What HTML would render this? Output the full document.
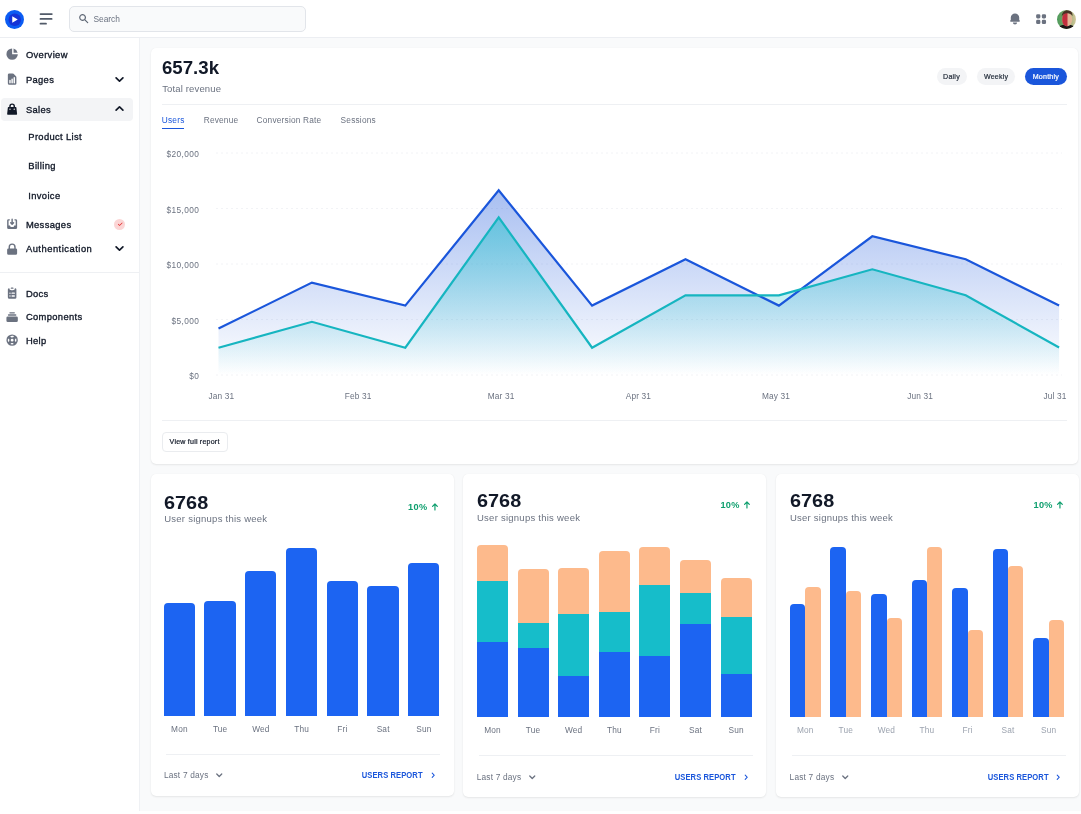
<!DOCTYPE html>
<html lang="en">
<head>
<meta charset="utf-8">
<title>Dashboard</title>
<style>
html,body{margin:0;padding:0}
body{width:1081px;height:814px;position:relative;overflow:hidden;background:#f9fafb;font-family:"Liberation Sans",sans-serif;color:#111827}
.t{position:absolute;white-space:nowrap}
.ic{position:absolute;display:block}
.abs{position:absolute}
.card{position:absolute;background:#fff;border-radius:5px;box-shadow:0 1px 2px rgba(0,0,0,.08),0 0 1px rgba(0,0,0,.06)}
.hr{position:absolute;height:1px;background:#eef0f3}
.pill{position:absolute;border-radius:9px;height:17.4px;top:68.1px;background:#f3f4f6}
</style>
</head>
<body>

<div class="abs" style="left:0;top:0;width:1081px;height:37px;background:#fff;border-bottom:1px solid #eceef2"></div>
<div class="abs" style="left:0;top:38px;width:139px;height:776px;background:#fff;border-right:1px solid #eff1f4"></div>
<div class="abs" style="left:0;top:810.6px;width:1081px;height:4px;background:#fff"></div>
<svg class="ic" style="left:4.75px;top:9.8px;width:19px;height:19px" viewBox="0 0 38 38"><circle cx="19" cy="19" r="19" fill="#0b5cf3"/><circle cx="19.5" cy="19.5" r="12.5" fill="#1533d6"/><path d="M14.5 12.5 L25.5 19 L14.5 25.5 Z" fill="#fff"/></svg>
<svg class="ic" style="left:38px;top:11px;width:16px;height:16px" viewBox="0 0 16 16" fill="none" stroke="#525b69" stroke-width="1.8" stroke-linecap="round"><path d="M2.5 3.1H13.8M2.5 7.9H13.6M2.5 12.7H8"/></svg>
<div class="abs" style="left:68.5px;top:6.3px;width:235.5px;height:24px;border:1px solid #e2e5ea;border-radius:5px;background:#f9fafb"></div>
<svg class="ic" style="left:77.50px;top:13.40px;width:11.4px;height:11.4px" viewBox="0 0 20 20" fill="#5b6472"><path fill-rule="evenodd" d="M8 4a4 4 0 100 8 4 4 0 000-8zM2 8a6 6 0 1110.89 3.476l4.817 4.817a1 1 0 01-1.414 1.414l-4.816-4.816A6 6 0 012 8z" clip-rule="evenodd"/></svg>
<div class="t" style="top:14.02px;font-size:8.4px;line-height:11.76px;color:#6b7280;font-weight:400;left:93.40px;">Search</div>
<svg class="ic" style="left:1007.70px;top:12.00px;width:14px;height:14px" viewBox="0 0 20 20" fill="#6b7280"><path d="M10 2a6 6 0 00-6 6v3.586l-.707.707A1 1 0 004 14h12a1 1 0 00.707-1.707L16 11.586V8a6 6 0 00-6-6zM10 18a3 3 0 01-3-3h6a3 3 0 01-3 3z"/></svg>
<svg class="ic" style="left:1033.70px;top:12.00px;width:14.2px;height:14.2px" viewBox="0 0 20 20" fill="#6b7280"><path d="M5 3a2 2 0 00-2 2v2a2 2 0 002 2h2a2 2 0 002-2V5a2 2 0 00-2-2H5zM5 11a2 2 0 00-2 2v2a2 2 0 002 2h2a2 2 0 002-2v-2a2 2 0 00-2-2H5zM11 5a2 2 0 012-2h2a2 2 0 012 2v2a2 2 0 01-2 2h-2a2 2 0 01-2-2V5zM11 13a2 2 0 012-2h2a2 2 0 012 2v2a2 2 0 01-2 2h-2a2 2 0 01-2-2v-2z"/></svg>
<svg class="ic" style="left:1057.1px;top:9.5px;width:19px;height:19px" viewBox="0 0 38 38"><defs><clipPath id="av"><circle cx="19" cy="19" r="19"/></clipPath><filter id="avb" x="-20%" y="-20%" width="140%" height="140%"><feGaussianBlur stdDeviation="1.3"/></filter><linearGradient id="avbg" x1="0" x2="1" y1="0" y2="0"><stop offset="0" stop-color="#4a9a5a"/><stop offset=".4" stop-color="#7aa468"/><stop offset="1" stop-color="#d2c79a"/></linearGradient></defs><g clip-path="url(#av)"><rect width="38" height="38" fill="url(#avbg)"/><g filter="url(#avb)"><path d="M0 40 C3 30 12 29 19 29 C27 29 35 30 38 40 Z" fill="#1a1719"/><ellipse cx="20.5" cy="19" rx="10" ry="13.5" fill="#e2b596"/><path d="M10.5 19 C10.5 9 14 5.5 21 5.5 L21 32.5 C14 32.5 10.5 28 10.5 19 Z" fill="#c22f3c"/><path d="M9.5 13 C9.5 4 16 0.5 21 0.5 C28 0.5 31.5 5 31 12 C28 7.5 24 6 20 6.5 C15 7 11 9 9.5 13 Z" fill="#4a3325"/></g></g></svg>
<div class="abs" style="left:1px;top:97.5px;width:131.5px;height:23.2px;border-radius:4px;background:#f3f4f6"></div>
<svg class="ic" style="left:4.78px;top:47.07px;width:14.25px;height:14.25px" viewBox="0 0 20 20" fill="#6b7280"><path d="M2 10a8 8 0 018-8v8h8a8 8 0 11-16 0z"/><path d="M12 2.252A8.014 8.014 0 0117.748 8H12V2.252z"/></svg>
<div class="t" style="top:48.32px;font-size:9.4px;line-height:13.16px;color:#111827;font-weight:400;letter-spacing:0.35px;-webkit-text-stroke:0.32px #111827;left:25.90px;">Overview</div>
<svg class="ic" style="left:4.78px;top:72.27px;width:14.25px;height:14.25px" viewBox="0 0 20 20" fill="#6b7280"><path fill-rule="evenodd" d="M6 2a2 2 0 00-2 2v12a2 2 0 002 2h8a2 2 0 002-2V7.414A2 2 0 0015.414 6L12 2.586A2 2 0 0010.586 2H6zm2 10a1 1 0 10-2 0v3a1 1 0 102 0v-3zm2-3a1 1 0 011 1v5a1 1 0 11-2 0v-5a1 1 0 011-1zm4-1a1 1 0 10-2 0v7a1 1 0 102 0V8z" clip-rule="evenodd"/></svg>
<div class="t" style="top:73.02px;font-size:9.4px;line-height:13.16px;color:#111827;font-weight:400;letter-spacing:0.35px;-webkit-text-stroke:0.32px #111827;left:25.90px;">Pages</div>
<svg class="ic" style="left:4.78px;top:102.17px;width:14.25px;height:14.25px" viewBox="0 0 20 20" fill="#111827"><path fill-rule="evenodd" d="M10 2a4 4 0 00-4 4v1H5a1 1 0 00-.994.89l-1 9A1 1 0 004 18h12a1 1 0 00.994-1.11l-1-9A1 1 0 0015 7h-1V6a4 4 0 00-4-4zm2 5V6a2 2 0 10-4 0v1h4zm-6 3a1 1 0 112 0 1 1 0 01-2 0zm7-1a1 1 0 100 2 1 1 0 000-2z" clip-rule="evenodd"/></svg>
<div class="t" style="top:102.72px;font-size:9.4px;line-height:13.16px;color:#111827;font-weight:400;letter-spacing:0.35px;-webkit-text-stroke:0.32px #111827;left:25.90px;">Sales</div>
<div class="t" style="top:130.42px;font-size:9.4px;line-height:13.16px;color:#111827;font-weight:400;letter-spacing:0.35px;-webkit-text-stroke:0.32px #111827;left:28.30px;">Product List</div>
<div class="t" style="top:159.02px;font-size:9.4px;line-height:13.16px;color:#111827;font-weight:400;letter-spacing:0.35px;-webkit-text-stroke:0.32px #111827;left:28.30px;">Billing</div>
<div class="t" style="top:188.82px;font-size:9.4px;line-height:13.16px;color:#111827;font-weight:400;letter-spacing:0.35px;-webkit-text-stroke:0.32px #111827;left:28.30px;">Invoice</div>
<svg class="ic" style="left:4.78px;top:217.18px;width:14.25px;height:14.25px" viewBox="0 0 20 20" fill="#6b7280"><path d="M8.707 7.293a1 1 0 00-1.414 1.414l2 2a1 1 0 001.414 0l2-2a1 1 0 00-1.414-1.414L11 7.586V3a1 1 0 10-2 0v4.586l-.293-.293z"/><path d="M3 5a2 2 0 012-2h1a1 1 0 010 2H5v7h2l1 2h4l1-2h2V5h-1a1 1 0 110-2h1a2 2 0 012 2v10a2 2 0 01-2 2H5a2 2 0 01-2-2V5z"/></svg>
<div class="t" style="top:217.92px;font-size:9.4px;line-height:13.16px;color:#111827;font-weight:400;letter-spacing:0.35px;-webkit-text-stroke:0.32px #111827;left:25.90px;">Messages</div>
<svg class="ic" style="left:4.78px;top:241.78px;width:14.25px;height:14.25px" viewBox="0 0 20 20" fill="#6b7280"><path fill-rule="evenodd" d="M5 9V7a5 5 0 0110 0v2a2 2 0 012 2v5a2 2 0 01-2 2H5a2 2 0 01-2-2v-5a2 2 0 012-2zm8-2v2H7V7a3 3 0 016 0z" clip-rule="evenodd"/></svg>
<div class="t" style="top:242.22px;font-size:9.4px;line-height:13.16px;color:#111827;font-weight:400;letter-spacing:0.5px;-webkit-text-stroke:0.32px #111827;left:25.90px;">Authentication</div>
<svg class="ic" style="left:4.78px;top:286.48px;width:14.25px;height:14.25px" viewBox="0 0 20 20" fill="#6b7280"><path d="M9 2a1 1 0 000 2h2a1 1 0 100-2H9z"/><path fill-rule="evenodd" d="M4 5a2 2 0 012-2 3 3 0 003 3h2a3 3 0 003-3 2 2 0 012 2v11a2 2 0 01-2 2H6a2 2 0 01-2-2V5zm3 4a1 1 0 000 2h.01a1 1 0 100-2H7zm3 0a1 1 0 000 2h3a1 1 0 100-2h-3zm-3 4a1 1 0 100 2h.01a1 1 0 100-2H7zm3 0a1 1 0 100 2h3a1 1 0 100-2h-3z" clip-rule="evenodd"/></svg>
<div class="t" style="top:287.22px;font-size:9.4px;line-height:13.16px;color:#111827;font-weight:400;letter-spacing:0.35px;-webkit-text-stroke:0.32px #111827;left:25.90px;">Docs</div>
<svg class="ic" style="left:4.78px;top:309.97px;width:14.25px;height:14.25px" viewBox="0 0 20 20" fill="#6b7280"><path d="M7 3a1 1 0 000 2h6a1 1 0 100-2H7zM4 7a1 1 0 011-1h10a1 1 0 110 2H5a1 1 0 01-1-1zM2 11a2 2 0 012-2h12a2 2 0 012 2v4a2 2 0 01-2 2H4a2 2 0 01-2-2v-4z"/></svg>
<div class="t" style="top:310.32px;font-size:9.4px;line-height:13.16px;color:#111827;font-weight:400;letter-spacing:0.35px;-webkit-text-stroke:0.32px #111827;left:25.90px;">Components</div>
<svg class="ic" style="left:4.78px;top:333.28px;width:14.25px;height:14.25px" viewBox="0 0 20 20" fill="#6b7280"><path fill-rule="evenodd" d="M18 10a8 8 0 11-16 0 8 8 0 0116 0zm-2 0c0 .993-.241 1.929-.668 2.754l-1.524-1.525a3.997 3.997 0 00.078-2.183l1.562-1.562C15.802 8.249 16 9.1 16 10zm-5.165 3.913l1.58 1.58A5.98 5.98 0 0110 16a5.976 5.976 0 01-2.516-.552l1.562-1.562a4.006 4.006 0 001.789.027zm-4.677-2.796a4.002 4.002 0 01-.041-2.08l-.08.08-1.53-1.533A5.98 5.98 0 004 10c0 .954.223 1.856.619 2.657l1.54-1.54zm1.088-6.45A5.974 5.974 0 0110 4c.954 0 1.856.223 2.657.619l-1.54 1.54a4.002 4.002 0 00-2.346.033L7.246 4.668zM12 10a2 2 0 11-4 0 2 2 0 014 0z" clip-rule="evenodd"/></svg>
<div class="t" style="top:334.02px;font-size:9.4px;line-height:13.16px;color:#111827;font-weight:400;letter-spacing:0.35px;-webkit-text-stroke:0.32px #111827;left:25.90px;">Help</div>
<svg class="ic" style="left:111.10px;top:70.60px;width:17px;height:17px" viewBox="0 0 20 20" fill="#111827"><path fill-rule="evenodd" d="M5.293 7.293a1 1 0 011.414 0L10 10.586l3.293-3.293a1 1 0 111.414 1.414l-4 4a1 1 0 01-1.414 0l-4-4a1 1 0 010-1.414z" clip-rule="evenodd"/></svg>
<svg class="ic" style="left:111.10px;top:100.30px;width:17px;height:17px" viewBox="0 0 20 20" fill="#111827"><path fill-rule="evenodd" d="M14.707 12.707a1 1 0 01-1.414 0L10 9.414l-3.293 3.293a1 1 0 01-1.414-1.414l4-4a1 1 0 011.414 0l4 4a1 1 0 010 1.414z" clip-rule="evenodd"/></svg>
<svg class="ic" style="left:111.10px;top:240.30px;width:17px;height:17px" viewBox="0 0 20 20" fill="#111827"><path fill-rule="evenodd" d="M5.293 7.293a1 1 0 011.414 0L10 10.586l3.293-3.293a1 1 0 111.414 1.414l-4 4a1 1 0 01-1.414 0l-4-4a1 1 0 010-1.414z" clip-rule="evenodd"/></svg>
<div class="abs" style="left:114.2px;top:219px;width:11px;height:11px;border-radius:50%;background:#fbd5d5"></div>
<svg class="ic" style="left:116.50px;top:221.30px;width:6.4px;height:6.4px" viewBox="0 0 20 20" fill="#e02424"><path fill-rule="evenodd" d="M16.707 5.293a1 1 0 010 1.414l-8 8a1 1 0 01-1.414 0l-4-4a1 1 0 011.414-1.414L8 12.586l7.293-7.293a1 1 0 011.414 0z" clip-rule="evenodd"/></svg>
<div class="hr" style="left:0;top:272px;width:139px;background:#eef0f3"></div>
<div class="card" style="left:150.5px;top:47.5px;width:927.5px;height:416.6px"></div>
<div class="t" style="top:56.15px;font-size:17.5px;line-height:24.5px;color:#111827;font-weight:700;transform:scaleX(1.065);transform-origin:left center;left:161.90px;">657.3k</div>
<div class="t" style="top:81.55px;font-size:9.5px;line-height:13.3px;color:#6b7280;font-weight:400;letter-spacing:0.15px;left:162.20px;">Total revenue</div>
<div class="pill" style="left:936.5px;width:30px"></div>
<div class="pill" style="left:976.7px;width:38.8px"></div>
<div class="pill" style="left:1024.9px;width:42px;background:#1a56db"></div>
<div class="t" style="top:72.93px;font-size:7.1px;line-height:9.94px;color:#1f2937;font-weight:400;letter-spacing:0.2px;-webkit-text-stroke:0.2px #1f2937;left:851.50px;width:200px;text-align:center;">Daily</div>
<div class="t" style="top:72.93px;font-size:7.1px;line-height:9.94px;color:#1f2937;font-weight:400;letter-spacing:0.2px;-webkit-text-stroke:0.2px #1f2937;left:896.10px;width:200px;text-align:center;">Weekly</div>
<div class="t" style="top:72.93px;font-size:7.1px;line-height:9.94px;color:#ffffff;font-weight:400;letter-spacing:0.2px;-webkit-text-stroke:0.2px #ffffff;left:945.90px;width:200px;text-align:center;">Monthly</div>
<div class="hr" style="left:161.5px;top:104px;width:905.5px"></div>
<div class="t" style="top:114.99px;font-size:8.3px;line-height:11.62px;color:#1a56db;font-weight:400;letter-spacing:0.25px;left:161.70px;">Users</div>
<div class="abs" style="left:161.7px;top:127.9px;width:22.6px;height:1.2px;background:#1a56db"></div>
<div class="t" style="top:114.99px;font-size:8.3px;line-height:11.62px;color:#6b7280;font-weight:400;letter-spacing:0.2px;left:203.70px;">Revenue</div>
<div class="t" style="top:114.99px;font-size:8.3px;line-height:11.62px;color:#6b7280;font-weight:400;letter-spacing:0.2px;left:256.60px;">Conversion Rate</div>
<div class="t" style="top:114.99px;font-size:8.3px;line-height:11.62px;color:#6b7280;font-weight:400;letter-spacing:0.2px;left:340.60px;">Sessions</div>
<svg class="ic" style="left:0;top:0;width:1081px;height:470px" viewBox="0 0 1081 470"><defs><linearGradient id="gb" x1="0" y1="190" x2="0" y2="375" gradientUnits="userSpaceOnUse"><stop offset="0" stop-color="#1a56db" stop-opacity=".38"/><stop offset="1" stop-color="#1a56db" stop-opacity="0"/></linearGradient><linearGradient id="gt" x1="0" y1="217" x2="0" y2="375" gradientUnits="userSpaceOnUse"><stop offset="0" stop-color="#16bdca" stop-opacity=".5"/><stop offset="1" stop-color="#16bdca" stop-opacity="0"/></linearGradient></defs><line x1="216" x2="1062" y1="153.0" y2="153.0" stroke="#f2f3f6" stroke-width="1" stroke-dasharray="2 3"/><line x1="216" x2="1062" y1="208.5" y2="208.5" stroke="#f2f3f6" stroke-width="1" stroke-dasharray="2 3"/><line x1="216" x2="1062" y1="264.0" y2="264.0" stroke="#f2f3f6" stroke-width="1" stroke-dasharray="2 3"/><line x1="216" x2="1062" y1="319.5" y2="319.5" stroke="#f2f3f6" stroke-width="1" stroke-dasharray="2 3"/><line x1="216" x2="1062" y1="375.0" y2="375.0" stroke="#f2f3f6" stroke-width="1" stroke-dasharray="2 3"/><polygon points="218.5,328.6 311.9,282.6 405.3,305.6 498.7,190.3 592.1,305.6 685.5,259.3 778.9,305.6 872.3,236.3 965.7,259.3 1059.1,305.6 1059.1,375.0 218.5,375.0" fill="url(#gb)"/><polygon points="218.5,347.7 311.9,321.8 405.3,347.7 498.7,217.3 592.1,347.7 685.5,295.3 778.9,295.3 872.3,269.3 965.7,295.3 1059.1,347.5 1059.1,375.0 218.5,375.0" fill="url(#gt)"/><polyline points="218.5,328.6 311.9,282.6 405.3,305.6 498.7,190.3 592.1,305.6 685.5,259.3 778.9,305.6 872.3,236.3 965.7,259.3 1059.1,305.6" fill="none" stroke="#1a56db" stroke-width="2.2" stroke-linejoin="miter" stroke-linecap="butt"/><polyline points="218.5,347.7 311.9,321.8 405.3,347.7 498.7,217.3 592.1,347.7 685.5,295.3 778.9,295.3 872.3,269.3 965.7,295.3 1059.1,347.5" fill="none" stroke="#16b5c0" stroke-width="2.2" stroke-linejoin="miter" stroke-linecap="butt"/></svg>
<div class="t" style="top:148.69px;font-size:8.3px;line-height:11.62px;color:#6b7280;font-weight:400;letter-spacing:0.4px;right:881.80px;">$20,000</div>
<div class="t" style="top:204.89px;font-size:8.3px;line-height:11.62px;color:#6b7280;font-weight:400;letter-spacing:0.4px;right:881.80px;">$15,000</div>
<div class="t" style="top:259.89px;font-size:8.3px;line-height:11.62px;color:#6b7280;font-weight:400;letter-spacing:0.4px;right:881.80px;">$10,000</div>
<div class="t" style="top:315.99px;font-size:8.3px;line-height:11.62px;color:#6b7280;font-weight:400;letter-spacing:0.4px;right:881.80px;">$5,000</div>
<div class="t" style="top:371.09px;font-size:8.3px;line-height:11.62px;color:#6b7280;font-weight:400;letter-spacing:0.4px;right:881.80px;">$0</div>
<div class="t" style="top:391.09px;font-size:8.3px;line-height:11.62px;color:#6b7280;font-weight:400;letter-spacing:0.15px;left:121.40px;width:200px;text-align:center;">Jan 31</div>
<div class="t" style="top:391.09px;font-size:8.3px;line-height:11.62px;color:#6b7280;font-weight:400;letter-spacing:0.15px;left:258.10px;width:200px;text-align:center;">Feb 31</div>
<div class="t" style="top:391.09px;font-size:8.3px;line-height:11.62px;color:#6b7280;font-weight:400;letter-spacing:0.15px;left:401.10px;width:200px;text-align:center;">Mar 31</div>
<div class="t" style="top:391.09px;font-size:8.3px;line-height:11.62px;color:#6b7280;font-weight:400;letter-spacing:0.15px;left:538.40px;width:200px;text-align:center;">Apr 31</div>
<div class="t" style="top:391.09px;font-size:8.3px;line-height:11.62px;color:#6b7280;font-weight:400;letter-spacing:0.15px;left:676.10px;width:200px;text-align:center;">May 31</div>
<div class="t" style="top:391.09px;font-size:8.3px;line-height:11.62px;color:#6b7280;font-weight:400;letter-spacing:0.15px;left:820.20px;width:200px;text-align:center;">Jun 31</div>
<div class="t" style="top:391.09px;font-size:8.3px;line-height:11.62px;color:#6b7280;font-weight:400;letter-spacing:0.15px;left:955.00px;width:200px;text-align:center;">Jul 31</div>
<div class="hr" style="left:161.5px;top:420px;width:905.5px"></div>
<div class="abs" style="left:161.8px;top:432px;width:64px;height:18px;border:1px solid #eaecef;border-radius:4px;background:#fff"></div>
<div class="t" style="top:438.33px;font-size:7.1px;line-height:9.94px;color:#111827;font-weight:400;letter-spacing:0.2px;-webkit-text-stroke:0.2px #111827;left:94.60px;width:200px;text-align:center;">View full report</div>
<div class="card" style="left:150.5px;top:474px;width:303px;height:321.5px"></div>
<div class="t" style="top:491.35px;font-size:17.5px;line-height:24.5px;color:#111827;font-weight:700;transform:scaleX(1.135);transform-origin:left center;left:163.90px;">6768</div>
<div class="t" style="top:511.55px;font-size:9.5px;line-height:13.3px;color:#6b7280;font-weight:400;letter-spacing:0.25px;left:164.20px;">User signups this week</div>
<div class="t" style="top:500.76px;font-size:9.2px;line-height:12.88px;color:#0e9f6e;font-weight:700;letter-spacing:0.3px;right:653.60px;">10%</div>
<svg class="ic" style="left:429.05px;top:501.25px;width:11.9px;height:11.9px" viewBox="0 0 20 20" fill="#0e9f6e"><path fill-rule="evenodd" d="M5.293 9.707a1 1 0 010-1.414l4-4a1 1 0 011.414 0l4 4a1 1 0 01-1.414 1.414L11 7.414V15a1 1 0 11-2 0V7.414L6.707 9.707a1 1 0 01-1.414 0z" clip-rule="evenodd"/></svg>
<div class="t" style="top:723.69px;font-size:8.3px;line-height:11.62px;color:#6b7280;font-weight:400;letter-spacing:0.15px;left:79.40px;width:200px;text-align:center;">Mon</div>
<div class="t" style="top:723.69px;font-size:8.3px;line-height:11.62px;color:#6b7280;font-weight:400;letter-spacing:0.15px;left:120.15px;width:200px;text-align:center;">Tue</div>
<div class="t" style="top:723.69px;font-size:8.3px;line-height:11.62px;color:#6b7280;font-weight:400;letter-spacing:0.15px;left:160.90px;width:200px;text-align:center;">Wed</div>
<div class="t" style="top:723.69px;font-size:8.3px;line-height:11.62px;color:#6b7280;font-weight:400;letter-spacing:0.15px;left:201.65px;width:200px;text-align:center;">Thu</div>
<div class="t" style="top:723.69px;font-size:8.3px;line-height:11.62px;color:#6b7280;font-weight:400;letter-spacing:0.15px;left:242.40px;width:200px;text-align:center;">Fri</div>
<div class="t" style="top:723.69px;font-size:8.3px;line-height:11.62px;color:#6b7280;font-weight:400;letter-spacing:0.15px;left:283.15px;width:200px;text-align:center;">Sat</div>
<div class="t" style="top:723.69px;font-size:8.3px;line-height:11.62px;color:#6b7280;font-weight:400;letter-spacing:0.15px;left:323.90px;width:200px;text-align:center;">Sun</div>
<div class="hr" style="left:166.2px;top:753.5px;width:274px"></div>
<div class="t" style="top:770.39px;font-size:8.3px;line-height:11.62px;color:#6b7280;font-weight:400;letter-spacing:0.2px;left:163.90px;">Last 7 days</div>
<svg class="ic" style="left:212.95px;top:768.85px;width:12.5px;height:12.5px" viewBox="0 0 20 20" fill="#6b7280"><path fill-rule="evenodd" d="M5.293 7.293a1 1 0 011.414 0L10 10.586l3.293-3.293a1 1 0 111.414 1.414l-4 4a1 1 0 01-1.414 0l-4-4a1 1 0 010-1.414z" clip-rule="evenodd"/></svg>
<div class="t" style="top:770.49px;font-size:8.3px;line-height:11.62px;color:#1a56db;font-weight:700;letter-spacing:0.1px;transform:scaleX(0.915);transform-origin:right center;right:658.30px;">USERS REPORT</div>
<svg class="ic" style="left:427.75px;top:769.85px;width:10.5px;height:10.5px" viewBox="0 0 20 20" fill="#1a56db"><path fill-rule="evenodd" d="M7.293 14.707a1 1 0 010-1.414L10.586 10 7.293 6.707a1 1 0 011.414-1.414l4 4a1 1 0 010 1.414l-4 4a1 1 0 01-1.414 0z" clip-rule="evenodd"/></svg>
<div class="abs" style="left:163.7px;top:603.2px;width:31.3px;height:112.7px;background:#1c64f2;border-radius:4px 4px 0 0"></div>
<div class="abs" style="left:204.4px;top:601.1px;width:31.3px;height:114.8px;background:#1c64f2;border-radius:4px 4px 0 0"></div>
<div class="abs" style="left:245.2px;top:571.1px;width:31.3px;height:144.8px;background:#1c64f2;border-radius:4px 4px 0 0"></div>
<div class="abs" style="left:285.9px;top:547.6px;width:31.3px;height:168.3px;background:#1c64f2;border-radius:4px 4px 0 0"></div>
<div class="abs" style="left:326.7px;top:581.0px;width:31.3px;height:134.9px;background:#1c64f2;border-radius:4px 4px 0 0"></div>
<div class="abs" style="left:367.4px;top:586.2px;width:31.3px;height:129.7px;background:#1c64f2;border-radius:4px 4px 0 0"></div>
<div class="abs" style="left:408.2px;top:563.0px;width:31.3px;height:152.9px;background:#1c64f2;border-radius:4px 4px 0 0"></div>
<div class="card" style="left:462.8px;top:474px;width:303px;height:323px"></div>
<div class="t" style="top:489.05px;font-size:17.5px;line-height:24.5px;color:#111827;font-weight:700;transform:scaleX(1.135);transform-origin:left center;left:476.70px;">6768</div>
<div class="t" style="top:510.95px;font-size:9.5px;line-height:13.3px;color:#6b7280;font-weight:400;letter-spacing:0.25px;left:477.00px;">User signups this week</div>
<div class="t" style="top:498.96px;font-size:9.2px;line-height:12.88px;color:#0e9f6e;font-weight:700;letter-spacing:0.3px;right:341.30px;">10%</div>
<svg class="ic" style="left:741.35px;top:499.45px;width:11.9px;height:11.9px" viewBox="0 0 20 20" fill="#0e9f6e"><path fill-rule="evenodd" d="M5.293 9.707a1 1 0 010-1.414l4-4a1 1 0 011.414 0l4 4a1 1 0 01-1.414 1.414L11 7.414V15a1 1 0 11-2 0V7.414L6.707 9.707a1 1 0 01-1.414 0z" clip-rule="evenodd"/></svg>
<div class="t" style="top:725.19px;font-size:8.3px;line-height:11.62px;color:#6b7280;font-weight:400;letter-spacing:0.15px;left:392.50px;width:200px;text-align:center;">Mon</div>
<div class="t" style="top:725.19px;font-size:8.3px;line-height:11.62px;color:#6b7280;font-weight:400;letter-spacing:0.15px;left:433.10px;width:200px;text-align:center;">Tue</div>
<div class="t" style="top:725.19px;font-size:8.3px;line-height:11.62px;color:#6b7280;font-weight:400;letter-spacing:0.15px;left:473.70px;width:200px;text-align:center;">Wed</div>
<div class="t" style="top:725.19px;font-size:8.3px;line-height:11.62px;color:#6b7280;font-weight:400;letter-spacing:0.15px;left:514.30px;width:200px;text-align:center;">Thu</div>
<div class="t" style="top:725.19px;font-size:8.3px;line-height:11.62px;color:#6b7280;font-weight:400;letter-spacing:0.15px;left:554.90px;width:200px;text-align:center;">Fri</div>
<div class="t" style="top:725.19px;font-size:8.3px;line-height:11.62px;color:#6b7280;font-weight:400;letter-spacing:0.15px;left:595.50px;width:200px;text-align:center;">Sat</div>
<div class="t" style="top:725.19px;font-size:8.3px;line-height:11.62px;color:#6b7280;font-weight:400;letter-spacing:0.15px;left:636.10px;width:200px;text-align:center;">Sun</div>
<div class="hr" style="left:479.0px;top:755px;width:274px"></div>
<div class="t" style="top:772.09px;font-size:8.3px;line-height:11.62px;color:#6b7280;font-weight:400;letter-spacing:0.2px;left:476.70px;">Last 7 days</div>
<svg class="ic" style="left:525.75px;top:770.55px;width:12.5px;height:12.5px" viewBox="0 0 20 20" fill="#6b7280"><path fill-rule="evenodd" d="M5.293 7.293a1 1 0 011.414 0L10 10.586l3.293-3.293a1 1 0 111.414 1.414l-4 4a1 1 0 01-1.414 0l-4-4a1 1 0 010-1.414z" clip-rule="evenodd"/></svg>
<div class="t" style="top:772.19px;font-size:8.3px;line-height:11.62px;color:#1a56db;font-weight:700;letter-spacing:0.1px;transform:scaleX(0.915);transform-origin:right center;right:345.30px;">USERS REPORT</div>
<svg class="ic" style="left:740.75px;top:771.55px;width:10.5px;height:10.5px" viewBox="0 0 20 20" fill="#1a56db"><path fill-rule="evenodd" d="M7.293 14.707a1 1 0 010-1.414L10.586 10 7.293 6.707a1 1 0 011.414-1.414l4 4a1 1 0 010 1.414l-4 4a1 1 0 01-1.414 0z" clip-rule="evenodd"/></svg>
<div class="abs" style="left:477.0px;top:544.8px;width:31.0px;height:36.2px;background:#fdba8c;border-radius:4px 4px 0 0"></div>
<div class="abs" style="left:477.0px;top:580.7px;width:31.0px;height:61.6px;background:#16bdca"></div>
<div class="abs" style="left:477.0px;top:642.0px;width:31.0px;height:75.2px;background:#1c64f2"></div>
<div class="abs" style="left:517.6px;top:569.3px;width:31.0px;height:54.0px;background:#fdba8c;border-radius:4px 4px 0 0"></div>
<div class="abs" style="left:517.6px;top:623.0px;width:31.0px;height:25.5px;background:#16bdca"></div>
<div class="abs" style="left:517.6px;top:648.2px;width:31.0px;height:69.0px;background:#1c64f2"></div>
<div class="abs" style="left:558.2px;top:568.0px;width:31.0px;height:45.9px;background:#fdba8c;border-radius:4px 4px 0 0"></div>
<div class="abs" style="left:558.2px;top:613.6px;width:31.0px;height:62.4px;background:#16bdca"></div>
<div class="abs" style="left:558.2px;top:675.7px;width:31.0px;height:41.5px;background:#1c64f2"></div>
<div class="abs" style="left:598.8px;top:551.1px;width:31.0px;height:60.7px;background:#fdba8c;border-radius:4px 4px 0 0"></div>
<div class="abs" style="left:598.8px;top:611.5px;width:31.0px;height:40.5px;background:#16bdca"></div>
<div class="abs" style="left:598.8px;top:651.7px;width:31.0px;height:65.5px;background:#1c64f2"></div>
<div class="abs" style="left:639.4px;top:546.9px;width:31.0px;height:38.7px;background:#fdba8c;border-radius:4px 4px 0 0"></div>
<div class="abs" style="left:639.4px;top:585.3px;width:31.0px;height:70.9px;background:#16bdca"></div>
<div class="abs" style="left:639.4px;top:655.9px;width:31.0px;height:61.3px;background:#1c64f2"></div>
<div class="abs" style="left:680.0px;top:560.4px;width:31.0px;height:32.8px;background:#fdba8c;border-radius:4px 4px 0 0"></div>
<div class="abs" style="left:680.0px;top:592.9px;width:31.0px;height:31.2px;background:#16bdca"></div>
<div class="abs" style="left:680.0px;top:623.8px;width:31.0px;height:93.4px;background:#1c64f2"></div>
<div class="abs" style="left:720.6px;top:577.7px;width:31.0px;height:39.6px;background:#fdba8c;border-radius:4px 4px 0 0"></div>
<div class="abs" style="left:720.6px;top:617.0px;width:31.0px;height:57.3px;background:#16bdca"></div>
<div class="abs" style="left:720.6px;top:674.0px;width:31.0px;height:43.2px;background:#1c64f2"></div>
<div class="card" style="left:775.5px;top:474px;width:303px;height:323px"></div>
<div class="t" style="top:488.95px;font-size:17.5px;line-height:24.5px;color:#111827;font-weight:700;transform:scaleX(1.135);transform-origin:left center;left:789.60px;">6768</div>
<div class="t" style="top:510.75px;font-size:9.5px;line-height:13.3px;color:#6b7280;font-weight:400;letter-spacing:0.25px;left:789.90px;">User signups this week</div>
<div class="t" style="top:498.66px;font-size:9.2px;line-height:12.88px;color:#0e9f6e;font-weight:700;letter-spacing:0.3px;right:28.20px;">10%</div>
<svg class="ic" style="left:1054.45px;top:499.15px;width:11.9px;height:11.9px" viewBox="0 0 20 20" fill="#0e9f6e"><path fill-rule="evenodd" d="M5.293 9.707a1 1 0 010-1.414l4-4a1 1 0 011.414 0l4 4a1 1 0 01-1.414 1.414L11 7.414V15a1 1 0 11-2 0V7.414L6.707 9.707a1 1 0 01-1.414 0z" clip-rule="evenodd"/></svg>
<div class="t" style="top:725.19px;font-size:8.3px;line-height:11.62px;color:#9ca3af;font-weight:400;letter-spacing:0.15px;left:705.30px;width:200px;text-align:center;">Mon</div>
<div class="t" style="top:725.19px;font-size:8.3px;line-height:11.62px;color:#9ca3af;font-weight:400;letter-spacing:0.15px;left:745.85px;width:200px;text-align:center;">Tue</div>
<div class="t" style="top:725.19px;font-size:8.3px;line-height:11.62px;color:#9ca3af;font-weight:400;letter-spacing:0.15px;left:786.40px;width:200px;text-align:center;">Wed</div>
<div class="t" style="top:725.19px;font-size:8.3px;line-height:11.62px;color:#9ca3af;font-weight:400;letter-spacing:0.15px;left:826.95px;width:200px;text-align:center;">Thu</div>
<div class="t" style="top:725.19px;font-size:8.3px;line-height:11.62px;color:#9ca3af;font-weight:400;letter-spacing:0.15px;left:867.50px;width:200px;text-align:center;">Fri</div>
<div class="t" style="top:725.19px;font-size:8.3px;line-height:11.62px;color:#9ca3af;font-weight:400;letter-spacing:0.15px;left:908.05px;width:200px;text-align:center;">Sat</div>
<div class="t" style="top:725.19px;font-size:8.3px;line-height:11.62px;color:#9ca3af;font-weight:400;letter-spacing:0.15px;left:948.60px;width:200px;text-align:center;">Sun</div>
<div class="hr" style="left:791.9px;top:755px;width:274px"></div>
<div class="t" style="top:772.09px;font-size:8.3px;line-height:11.62px;color:#6b7280;font-weight:400;letter-spacing:0.2px;left:789.60px;">Last 7 days</div>
<svg class="ic" style="left:838.65px;top:770.55px;width:12.5px;height:12.5px" viewBox="0 0 20 20" fill="#6b7280"><path fill-rule="evenodd" d="M5.293 7.293a1 1 0 011.414 0L10 10.586l3.293-3.293a1 1 0 111.414 1.414l-4 4a1 1 0 01-1.414 0l-4-4a1 1 0 010-1.414z" clip-rule="evenodd"/></svg>
<div class="t" style="top:772.19px;font-size:8.3px;line-height:11.62px;color:#1a56db;font-weight:700;letter-spacing:0.1px;transform:scaleX(0.915);transform-origin:right center;right:32.60px;">USERS REPORT</div>
<svg class="ic" style="left:1053.45px;top:771.55px;width:10.5px;height:10.5px" viewBox="0 0 20 20" fill="#1a56db"><path fill-rule="evenodd" d="M7.293 14.707a1 1 0 010-1.414L10.586 10 7.293 6.707a1 1 0 011.414-1.414l4 4a1 1 0 010 1.414l-4 4a1 1 0 01-1.414 0z" clip-rule="evenodd"/></svg>
<div class="abs" style="left:789.9px;top:604.3px;width:15.5px;height:112.9px;background:#1c64f2;border-radius:4px 4px 0 0"></div>
<div class="abs" style="left:805.4px;top:587.0px;width:15.4px;height:130.2px;background:#fdba8c;border-radius:4px 4px 0 0"></div>
<div class="abs" style="left:830.4px;top:546.5px;width:15.5px;height:170.7px;background:#1c64f2;border-radius:4px 4px 0 0"></div>
<div class="abs" style="left:845.9px;top:590.8px;width:15.4px;height:126.4px;background:#fdba8c;border-radius:4px 4px 0 0"></div>
<div class="abs" style="left:871.0px;top:594.2px;width:15.5px;height:123.0px;background:#1c64f2;border-radius:4px 4px 0 0"></div>
<div class="abs" style="left:886.5px;top:617.9px;width:15.4px;height:99.3px;background:#fdba8c;border-radius:4px 4px 0 0"></div>
<div class="abs" style="left:911.5px;top:580.0px;width:15.5px;height:137.2px;background:#1c64f2;border-radius:4px 4px 0 0"></div>
<div class="abs" style="left:927.0px;top:546.5px;width:15.4px;height:170.7px;background:#fdba8c;border-radius:4px 4px 0 0"></div>
<div class="abs" style="left:952.1px;top:588.3px;width:15.5px;height:128.9px;background:#1c64f2;border-radius:4px 4px 0 0"></div>
<div class="abs" style="left:967.6px;top:629.7px;width:15.4px;height:87.5px;background:#fdba8c;border-radius:4px 4px 0 0"></div>
<div class="abs" style="left:992.6px;top:549.4px;width:15.5px;height:167.8px;background:#1c64f2;border-radius:4px 4px 0 0"></div>
<div class="abs" style="left:1008.1px;top:565.9px;width:15.4px;height:151.3px;background:#fdba8c;border-radius:4px 4px 0 0"></div>
<div class="abs" style="left:1033.2px;top:637.7px;width:15.5px;height:79.5px;background:#1c64f2;border-radius:4px 4px 0 0"></div>
<div class="abs" style="left:1048.7px;top:620.4px;width:15.4px;height:96.8px;background:#fdba8c;border-radius:4px 4px 0 0"></div>
</body>
</html>
